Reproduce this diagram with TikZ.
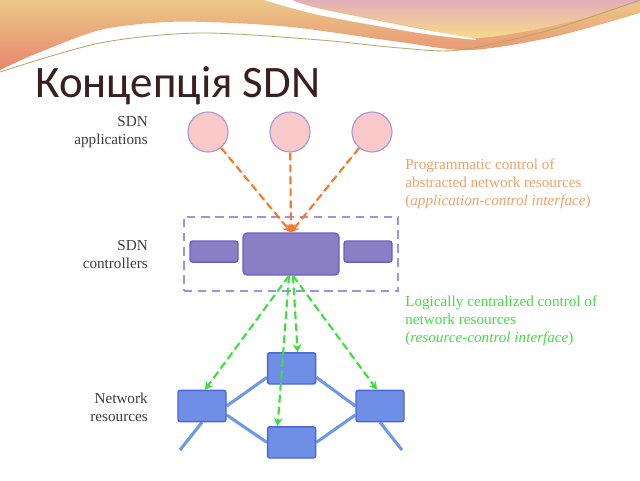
\documentclass[tikz,border=0pt]{standalone}
\usepackage{fontspec}
\setmainfont{Liberation Serif}
\newfontfamily\titlefont{Carlito}
\usepackage{xcolor}
\usetikzlibrary{arrows.meta,fit,backgrounds}
\definecolor{bandtop}{HTML}{EBC888}
\definecolor{bandbot}{HTML}{E8866E}
\definecolor{pinktop}{HTML}{E2AEB8}
\definecolor{pinkbot}{HTML}{F8DA8A}
\definecolor{wavecol}{HTML}{B9A366}
\definecolor{titlecol}{HTML}{3B1E1E}
\definecolor{labtext}{HTML}{3C3C3C}
\definecolor{appfill}{HTML}{F9C9C9}
\definecolor{appline}{HTML}{A497DB}
\definecolor{ctlfill}{HTML}{8A7EC4}
\definecolor{ctlline}{HTML}{6B5DC9}
\definecolor{boxline}{HTML}{9C92E6}
\definecolor{resfill}{HTML}{6F8FE6}
\definecolor{resline}{HTML}{4A66D6}
\definecolor{linkcol}{HTML}{6E98E8}
\definecolor{orarrow}{HTML}{F27B2B}
\definecolor{ortext}{HTML}{F2A06A}
\definecolor{grarrow}{HTML}{3BE03B}
\definecolor{grtext}{HTML}{45DC45}

\begin{document}
\begin{tikzpicture}[
  font=\fontsize{10.8}{12.8}\selectfont,
  app/.style={circle, draw=appline, fill=appfill, line width=0.8pt, minimum size=1cm, inner sep=0pt},
  ctl/.style={draw=ctlline, fill=ctlfill, line width=1pt, rounded corners=3pt, inner sep=0pt},
  res/.style={draw=resline, fill=resfill, line width=1pt, rounded corners=1.5pt, minimum width=1.2cm, minimum height=0.78cm, inner sep=0pt},
  layer/.style={align=right, anchor=east, text=labtext, inner sep=0pt},
  note/.style={align=left, anchor=west, inner sep=0pt},
  link/.style={draw=linkcol, line width=2.2pt},
  apparr/.style={-{Stealth[length=2mm,width=2.2mm]}, draw=orarrow, fill=orarrow, line width=1.5pt, dash pattern=on 5.5pt off 3pt},
  ctlarr/.style={-{Stealth[length=2mm,width=2.2mm]}, draw=grarrow, fill=grarrow, line width=1.5pt, dash pattern=on 5.5pt off 3pt}
]
\useasboundingbox (0,0) rectangle (16,12);

% banner
\shade[top color=bandtop, bottom color=bandbot] (0,12) -- (16,12) -- plot[smooth] coordinates {(16,11.675) (13.825,11.075) (11.75,10.75) (10,10.95) (7.5,11.3) (5.825,11.425) (4.175,11.45) (2.5,11.25) (0.825,10.625) (0,10.25)} -- cycle;
\shade[top color=pinktop, bottom color=pinkbot] (7.25,12) -- (16,12) -- plot[smooth] coordinates {(16,11.95) (13.8,11.35) (11.9,11.05) (10.5,11.3) (8,11.8) (7.25,12)} -- cycle;
\fill[white] plot[smooth] coordinates {(6.6,12) (8,11.62) (10.5,11.17) (11.9,11.0)} -- plot[smooth] coordinates {(11.9,11.03) (10.5,11.28) (8,11.78) (7.3,12)} -- cycle;
\draw[wavecol, line width=0.6pt] plot[smooth] coordinates {(0,10.2) (2.5,10.925) (5,11.175) (8,11.0) (10,10.8) (11.5,10.75) (13.75,11.25) (16,12)};

\node[anchor=base west, inner sep=0pt, text=titlecol, font=\titlefont\fontsize{32}{38}\selectfont] (title) at (0.875,9.55) {Концепція SDN};

% layers
\node[layer] (lapp) at (3.7,8.69) {SDN\\applications};
\node[layer] (lctl) at (3.7,5.625) {SDN\\controllers};
\node[layer] (lres) at (3.7,1.825) {Network\\resources};

\node[app] (app1) at (5.2,8.7) {};
\node[app] (app2) at (7.25,8.7) {};
\node[app] (app3) at (9.3,8.7) {};

\node[ctl, minimum width=2.4cm, minimum height=1.05cm] (ctlm) at (7.275,5.65) {};
\node[ctl, rounded corners=2pt, minimum width=1.2cm, minimum height=0.53cm] (ctll) at (5.35,5.71) {};
\node[ctl, rounded corners=2pt, minimum width=1.2cm, minimum height=0.53cm] (ctlr) at (9.2,5.71) {};
\node[draw=boxline, line width=1.3pt, dash pattern=on 6pt off 4pt, inner xsep=0.14cm, inner ysep=0.39cm, fit=(ctll) (ctlm) (ctlr)] (ctlbox) {};

\node[res] (netl) at (5.05,1.85) {};
\node[res] (nett) at (7.29,2.79) {};
\node[res] (netb) at (7.29,0.94) {};
\node[res] (netr) at (9.5,1.85) {};
\coordinate (tailL) at (4.5,0.75);
\coordinate (tailR) at (10.05,0.75);

\begin{scope}[on background layer]
\draw[link] (netl.east) -- (nett.200);
\draw[link] (netl.-20) -- (netb.west);
\draw[link] (nett.-20) -- (netr.west);
\draw[link] (netb.east) -- (netr.200);
\draw[link] (netl.south) -- (tailL);
\draw[link] (netr.south) -- (tailR);
\end{scope}

\draw[apparr] (app1) -- (ctlm.north);
\draw[apparr] (app2) -- (ctlm.north);
\draw[apparr] (app3) -- (ctlm.north);

\draw[ctlarr] ([xshift=-0.05cm]ctlm.south) -- ([xshift=0.075cm]netl.north);
\draw[ctlarr] ([xshift=0.05cm]ctlm.south) -- ([xshift=0.15cm]nett.north);
\draw[ctlarr] ([xshift=-0.05cm]ctlm.south) -- ([xshift=-0.35cm]netb.north);
\draw[ctlarr] ([xshift=0.05cm]ctlm.south) -- ([xshift=-0.075cm]netr.north);

\node[note, text=ortext] (appnote) at (10.125,7.4) {Programmatic control of\\abstracted network resources\\(\textit{application-control interface})};
\node[note, text=grtext] (ctlnote) at (10.125,3.975) {Logically centralized control of\\network resources\\(\textit{resource-control interface})};
\end{tikzpicture}
\end{document}
